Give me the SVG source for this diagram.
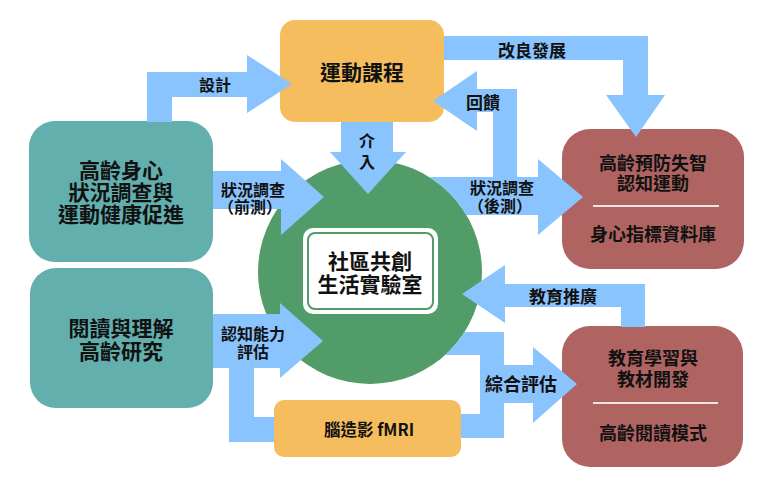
<svg xmlns="http://www.w3.org/2000/svg" width="772" height="487" viewBox="0 0 772 487">
<style>
text{font-family:"Noto Sans CJK TC","Noto Sans CJK SC",sans-serif;font-weight:bold;fill:#111;text-anchor:middle;dominant-baseline:central}
.t21{font-size:21px}
.t18{font-size:18px}
.l16{font-size:16px}
.l17{font-size:17px}
.arr{fill:#8AC4FE}
.teal{fill:#62AFAE}
.orange{fill:#F6BD5F}
.red{fill:#AF6461}
.sep{stroke:#F2E4E4;stroke-width:2}
</style>
<rect width="772" height="487" fill="#ffffff"/>
<g id="node-teal-1">
<rect class="teal" x="29" y="121" width="184" height="141" rx="26"/>
<text class="t21" x="121" y="169">高齡身心</text>
<text class="t21" x="121" y="191">狀況調查與</text>
<text class="t21" x="121" y="213">運動健康促進</text>
</g>
<g id="node-teal-2">
<rect class="teal" x="30" y="268" width="183" height="140" rx="26"/>
<text class="t21" x="121" y="327">閱讀與理解</text>
<text class="t21" x="121" y="350">高齡研究</text>
</g>
<g id="node-course">
<rect class="orange" x="280" y="20" width="164" height="102" rx="15"/>
<text class="t21" x="362" y="71">運動課程</text>
</g>
<g id="node-red-1">
<rect class="red" x="562" y="129" width="182" height="140" rx="28"/>
<text class="t18" x="653" y="162">高齡預防失智</text>
<text class="t18" x="653" y="182">認知運動</text>
<line class="sep" x1="593" y1="206" x2="719" y2="206"/>
<text class="t18" x="653" y="233">身心指標資料庫</text>
</g>
<g id="node-red-2">
<rect class="red" x="562" y="326" width="181" height="141" rx="28"/>
<text class="t18" x="653" y="357">教育學習與</text>
<text class="t18" x="653" y="378">教材開發</text>
<line class="sep" x1="593" y1="403" x2="718" y2="403"/>
<text class="t18" x="653" y="432">高齡閱讀模式</text>
</g>
<g id="node-lab">
<circle cx="370" cy="272" r="112" fill="#519C68"/>
<rect x="303" y="228" width="135" height="86" rx="10" fill="#ffffff"/>
<rect x="308" y="233" width="125" height="76" rx="7" fill="#ffffff" stroke="#519C68" stroke-width="2"/>
<text class="t21" x="370" y="260">社區共創</text>
<text class="t21" x="370" y="283">生活實驗室</text>
</g>
<g id="node-fmri">
<rect class="orange" x="274" y="400" width="187" height="57" rx="10"/>
<text x="369" y="429" style="font-size:16.5px">腦造影 fMRI</text>
</g>
<g id="connectors">
<path class="arr" d="M147 122 L147 72 L247 72 L247 55 L292 84 L247 113 L247 97 L172 97 L172 122 Z"/>
<path class="arr" d="M444 36 L648 36 L648 95 L665 95 L636 137 L606 95 L623 95 L623 60 L444 60 Z"/>
<path class="arr" d="M429.3 177 L493 177 L493 112 L477 112 L477 131 L433 101 L477 71 L477 89 L517 89 L517 177 L538 177 L538 159 L583 197 L538 235 L538 215 L466.4 215 A112 112 0 0 0 429.3 177 Z"/>
<path class="arr" d="M213 171 L281 171 L281 159 L324 197 L281 235 L281 209 L213 209 Z"/>
<path class="arr" d="M341 122 L393 122 L393 152 L406 152 L368 194 L330 152 L341 152 Z"/>
<path class="arr" d="M213 314 L280 314 L280 303 L323 341 L280 378 L280 368 L254 368 L254 417 L274 417 L274 442 L229 442 L229 368 L213 368 Z"/>
<path class="arr" d="M464.6 332 L504 332 L504 365 L533 365 L533 347 L577 384 L533 423 L533 403 L504 403 L504 438 L461 438 L461 414 L480 414 L480 355 L445.2 355 A112 112 0 0 0 464.6 332 Z"/>
<path class="arr" d="M621 327 L621 307 L505 307 L505 323 L462 294 L505 265 L505 284 L645 284 L645 327 Z"/>
<text class="l16" x="215" y="84">設計</text>
<text class="l17" x="532" y="49">改良發展</text>
<text class="l17" x="483" y="101">回饋</text>
<text class="l16" x="502" y="187">狀況調查</text>
<text class="l16" x="500" y="205">（後測）</text>
<text class="l16" x="253" y="189">狀況調查</text>
<text class="l16" x="250" y="206">（前測）</text>
<text class="l16" x="367" y="140">介</text>
<text class="l16" x="367" y="161">入</text>
<text class="l16" x="253" y="333">認知能力</text>
<text class="l16" x="253" y="351">評估</text>
<text class="l17" x="563" y="295">教育推廣</text>
<text x="521" y="383" style="font-size:18px">綜合評估</text>
</g>
</svg>
